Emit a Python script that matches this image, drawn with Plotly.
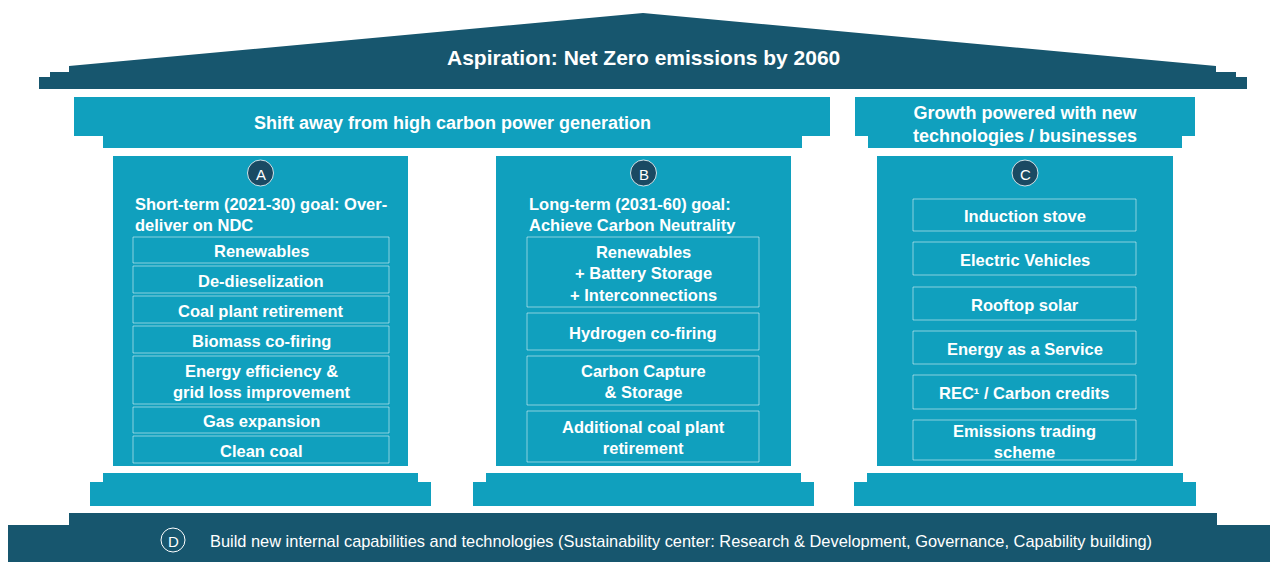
import plotly.graph_objects as go

# ---------------- content ----------------
roof_title = "Aspiration: Net Zero emissions by 2060"
capital_left = "Shift away from high carbon power generation"
capital_right = "Growth powered with new<br>technologies / businesses"

pillar_letters = ["A", "B", "C"]
pillar_titles = [
    "Short-term (2021-30) goal: Over-<br>deliver on NDC",
    "Long-term (2031-60) goal:<br>Achieve Carbon Neutrality",
    "",
]
items_a = ["Renewables", "De-dieselization", "Coal plant retirement", "Biomass co-firing",
           "Energy efficiency &<br>grid loss improvement", "Gas expansion", "Clean coal"]
items_b = ["Renewables<br>+ Battery Storage<br>+ Interconnections", "Hydrogen co-firing",
           "Carbon Capture<br>& Storage", "Additional coal plant<br>retirement"]
items_c = ["Induction stove", "Electric Vehicles", "Rooftop solar", "Energy as a Service",
           "REC¹ / Carbon credits", "Emissions trading<br>scheme"]
foundation_letter = "D"
foundation_text = ("Build new internal capabilities and technologies (Sustainability center: "
                   "Research & Development, Governance, Capability building)")

# ---------------- layout (pixel geometry) ----------------
W, H = 1277, 562
DARK = "#17566e"
CYAN = "#10a0be"
CIRC = "#1a4a63"
LINE = "rgba(255,255,255,0.5)"
FONT = "Liberation Sans, Arial, sans-serif"

pillar_x = [(113, 408), (496, 791), (877, 1173)]
pillar_y = (156, 466)
box_x = [(133, 389), (527, 759), (913, 1136)]
rows_a = [(237, 263), (266, 293), (296, 323), (326, 353), (356, 404), (407, 433), (436, 463)]
rows_b = [(237, 307), (313, 350), (356, 405), (411, 462)]
rows_c = [(199, 231), (242, 275), (287, 320), (331, 364), (375, 409), (420, 460)]

shapes = []
annotations = []


def path(pts, color):
    d = "M " + " L ".join(f"{x},{y}" for x, y in pts) + " Z"
    shapes.append(dict(type="path", path=d, fillcolor=color, line=dict(width=0), layer="below"))


def rect(x0, y0, x1, y1, fill=None, line=None, lw=0):
    shapes.append(dict(type="rect", x0=x0, y0=y0, x1=x1, y1=y1,
                       fillcolor=fill if fill else "rgba(0,0,0,0)",
                       line=dict(width=lw, color=line if line else "rgba(0,0,0,0)")))


def text(x, y, s, size, bold=True, xanchor="center", align="center", color="white"):
    annotations.append(dict(x=x, y=y, text=(f"<b>{s}</b>" if bold else s), showarrow=False,
                            xanchor=xanchor, yanchor="middle", align=align,
                            font=dict(family=FONT, size=size, color=color)))


# roof
path([(39, 89), (39, 77), (50, 77), (50, 72), (69, 72), (69, 66), (643, 13), (1216, 66),
      (1216, 72), (1236, 72), (1236, 77), (1247, 77), (1247, 89)], DARK)
text(643, 57, roof_title, 21)

# capitals
path([(74, 97), (830, 97), (830, 136), (802, 136), (802, 148), (103, 148), (103, 136), (74, 136)], CYAN)
text(452, 123, capital_left, 18)
path([(855, 97), (1195, 97), (1195, 136), (1182, 136), (1182, 148), (868, 148), (868, 136), (855, 136)], CYAN)
text(1025, 124, capital_right, 18)

# pillars + bases
for (x0, x1) in pillar_x:
    rect(x0, pillar_y[0], x1, pillar_y[1], fill=CYAN)
    rect(x0 - 10, 473, x1 + 10, 483, fill=CYAN)
    rect(x0 - 23, 482, x1 + 23, 506, fill=CYAN)

# circles with letters
for (x0, x1), letter in zip(pillar_x, pillar_letters):
    cx = (x0 + x1) / 2
    shapes.append(dict(type="circle", x0=cx - 13, y0=173 - 13, x1=cx + 13, y1=173 + 13,
                       fillcolor=CIRC, line=dict(width=1, color="rgba(255,255,255,0.8)")))
    text(cx, 174, letter, 15, bold=False)

# pillar titles
for (bx0, bx1), title in zip(box_x, pillar_titles):
    if title:
        text(bx0, 214, title, 16.5, xanchor="left", align="left")

# item boxes
for (bx0, bx1), items, rows in zip(box_x, [items_a, items_b, items_c], [rows_a, rows_b, rows_c]):
    for label, (y0, y1) in zip(items, rows):
        rect(bx0, y0, bx1, y1, line=LINE, lw=1)
        text((bx0 + bx1) / 2, (y0 + y1) / 2 + 1, label, 16.5)

# foundation
path([(69, 513), (1217, 513), (1217, 525), (1270, 525), (1270, 562), (8, 562), (8, 525), (69, 525)], DARK)
shapes.append(dict(type="circle", x0=173 - 12, y0=540 - 12, x1=173 + 12, y1=540 + 12,
                   fillcolor=DARK, line=dict(width=1, color="white")))
text(173, 541, foundation_letter, 15, bold=False)
text(208, 541, foundation_text, 16.4, bold=False, xanchor="left", align="left")

fig = go.Figure()
fig.update_layout(
    width=W, height=H, margin=dict(l=0, r=0, t=0, b=0),
    paper_bgcolor="white", plot_bgcolor="white",
    xaxis=dict(range=[0, W], visible=False, fixedrange=True),
    yaxis=dict(range=[H, 0], visible=False, fixedrange=True),
    shapes=shapes, annotations=annotations, showlegend=False,
)
fig.write_html("out.html", config={"displayModeBar": False},
               post_script="document.body.style.margin='0px';document.body.style.overflow='hidden';")
